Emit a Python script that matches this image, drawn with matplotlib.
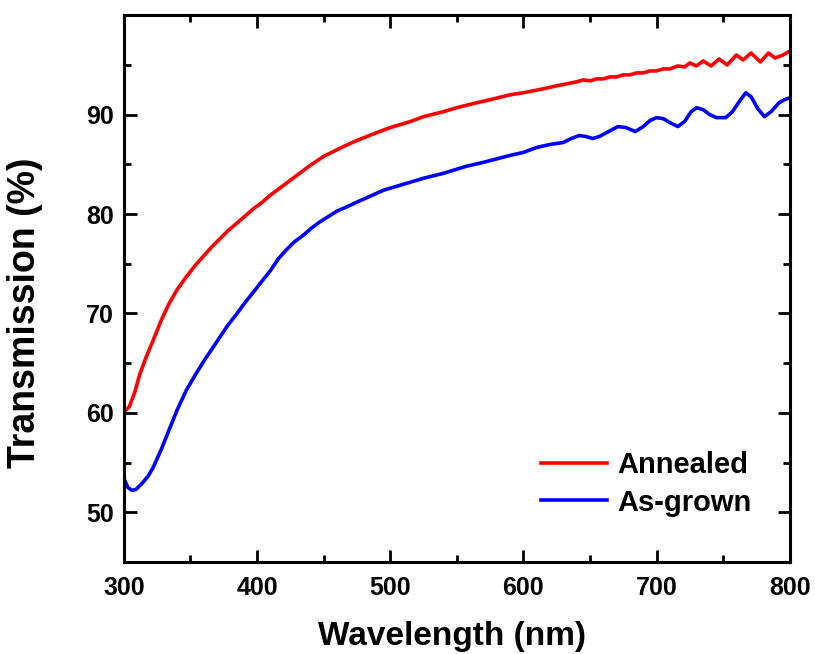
import matplotlib
matplotlib.use('Agg')
import matplotlib.pyplot as plt
from matplotlib.ticker import MultipleLocator

plt.rcParams['font.family'] = ['Liberation Sans', 'DejaVu Sans']
plt.rcParams['font.weight'] = 'bold'

# Annealed sample (red)
wl_annealed = [300, 304, 308, 312, 317, 322, 328, 334, 340, 347, 354, 360, 366, 372,
               378, 385, 391, 397, 404, 410, 418, 425, 432, 440, 450, 465, 475, 490,
               500, 515, 525, 540, 550, 565, 575, 590, 600, 615, 625, 640, 645, 650,
               655, 660, 665, 670, 675, 680, 685, 690, 695, 700, 705, 710, 716, 721,
               725, 730, 735, 741, 747, 753, 760, 765, 771, 778, 784, 789, 795, 800]
tr_annealed = [60.1, 60.6, 62.0, 63.9, 65.7, 67.3, 69.3, 71.0, 72.4, 73.7, 74.9, 75.8,
               76.7, 77.5, 78.3, 79.1, 79.8, 80.5, 81.2, 81.9, 82.7, 83.4, 84.1, 84.9,
               85.8, 86.8, 87.4, 88.2, 88.7, 89.3, 89.8, 90.3, 90.7, 91.2, 91.5, 92.0,
               92.2, 92.6, 92.9, 93.3, 93.5, 93.4, 93.6, 93.6, 93.8, 93.8, 94.0, 94.0,
               94.2, 94.2, 94.4, 94.4, 94.6, 94.6, 94.9, 94.8, 95.2, 94.9, 95.4, 94.9,
               95.6, 95.0, 96.0, 95.5, 96.2, 95.3, 96.2, 95.7, 96.0, 96.4]

# As-grown sample (blue)
wl_asgrown = [300, 303, 306, 309, 313, 318, 322, 328, 334, 340, 347, 354, 360, 366,
              372, 378, 385, 391, 397, 404, 410, 416, 422, 428, 435, 441, 447, 453,
              460, 467, 475, 485, 495, 510, 525, 540, 557, 570, 590, 600, 610, 620,
              630, 636, 642, 647, 652, 657, 664, 671, 677, 684, 690, 695, 700, 705,
              710, 716, 721, 726, 730, 735, 740, 745, 752, 757, 762, 767, 771, 776,
              781, 786, 792, 796, 800]
tr_asgrown = [53.4, 52.5, 52.2, 52.3, 52.8, 53.6, 54.5, 56.3, 58.3, 60.3, 62.3, 63.9,
              65.2, 66.4, 67.6, 68.8, 70.0, 71.1, 72.1, 73.3, 74.3, 75.5, 76.4, 77.2,
              77.9, 78.6, 79.2, 79.7, 80.3, 80.7, 81.2, 81.8, 82.4, 83.0, 83.6, 84.1,
              84.8, 85.2, 85.9, 86.2, 86.7, 87.0, 87.2, 87.6, 87.9, 87.8, 87.6, 87.8,
              88.3, 88.8, 88.7, 88.3, 88.8, 89.4, 89.7, 89.6, 89.2, 88.8, 89.3, 90.3,
              90.7, 90.5, 90.0, 89.7, 89.7, 90.3, 91.3, 92.2, 91.8, 90.6, 89.8, 90.3,
              91.2, 91.5, 91.7]

fig = plt.figure(figsize=(8.15, 6.54), dpi=100)
ax = fig.add_axes([0.152, 0.1407, 0.817, 0.836])

ax.plot(wl_annealed, tr_annealed, color='#ff0000', lw=2.6, label='Annealed',
        solid_joinstyle='round')
ax.plot(wl_asgrown, tr_asgrown, color='#0000ff', lw=2.6, label='As-grown',
        solid_joinstyle='round')

ax.set_xlim(300, 800)
ax.set_ylim(45, 100)
ax.set_yticks([50, 60, 70, 80, 90])
ax.xaxis.set_major_locator(MultipleLocator(100))
ax.xaxis.set_minor_locator(MultipleLocator(50))
ax.yaxis.set_minor_locator(MultipleLocator(5))

for s in ax.spines.values():
    s.set_linewidth(2.2)
ax.tick_params(which='both', direction='in', top=True, right=True, width=2.0)
ax.tick_params(which='major', length=9, labelsize=18, pad=7)
ax.tick_params(axis='x', which='major', pad=10)
ax.tick_params(which='minor', length=5)
for lab in ax.get_xticklabels() + ax.get_yticklabels():
    lab.set_fontweight('bold')

ax.set_xlabel('Wavelength (nm)', fontsize=24, fontweight='bold')
ax.set_ylabel('Transmission (%)', fontsize=27, fontweight='bold')
ax.xaxis.set_label_coords(0.4925, -0.108)
ax.yaxis.set_label_coords(-0.122, 0.455)

leg = ax.legend(loc='upper left', bbox_to_anchor=(541 / 815, 1 - 451 / 654),
                bbox_transform=fig.transFigure, frameon=False, fontsize=21,
                handlelength=2.25, handletextpad=0.35, labelspacing=0.33,
                borderpad=0, borderaxespad=0)
for t in leg.get_texts():
    t.set_fontweight('bold')
for l in leg.get_lines():
    l.set_linewidth(2.6)

fig.savefig('out.png', dpi=100)
